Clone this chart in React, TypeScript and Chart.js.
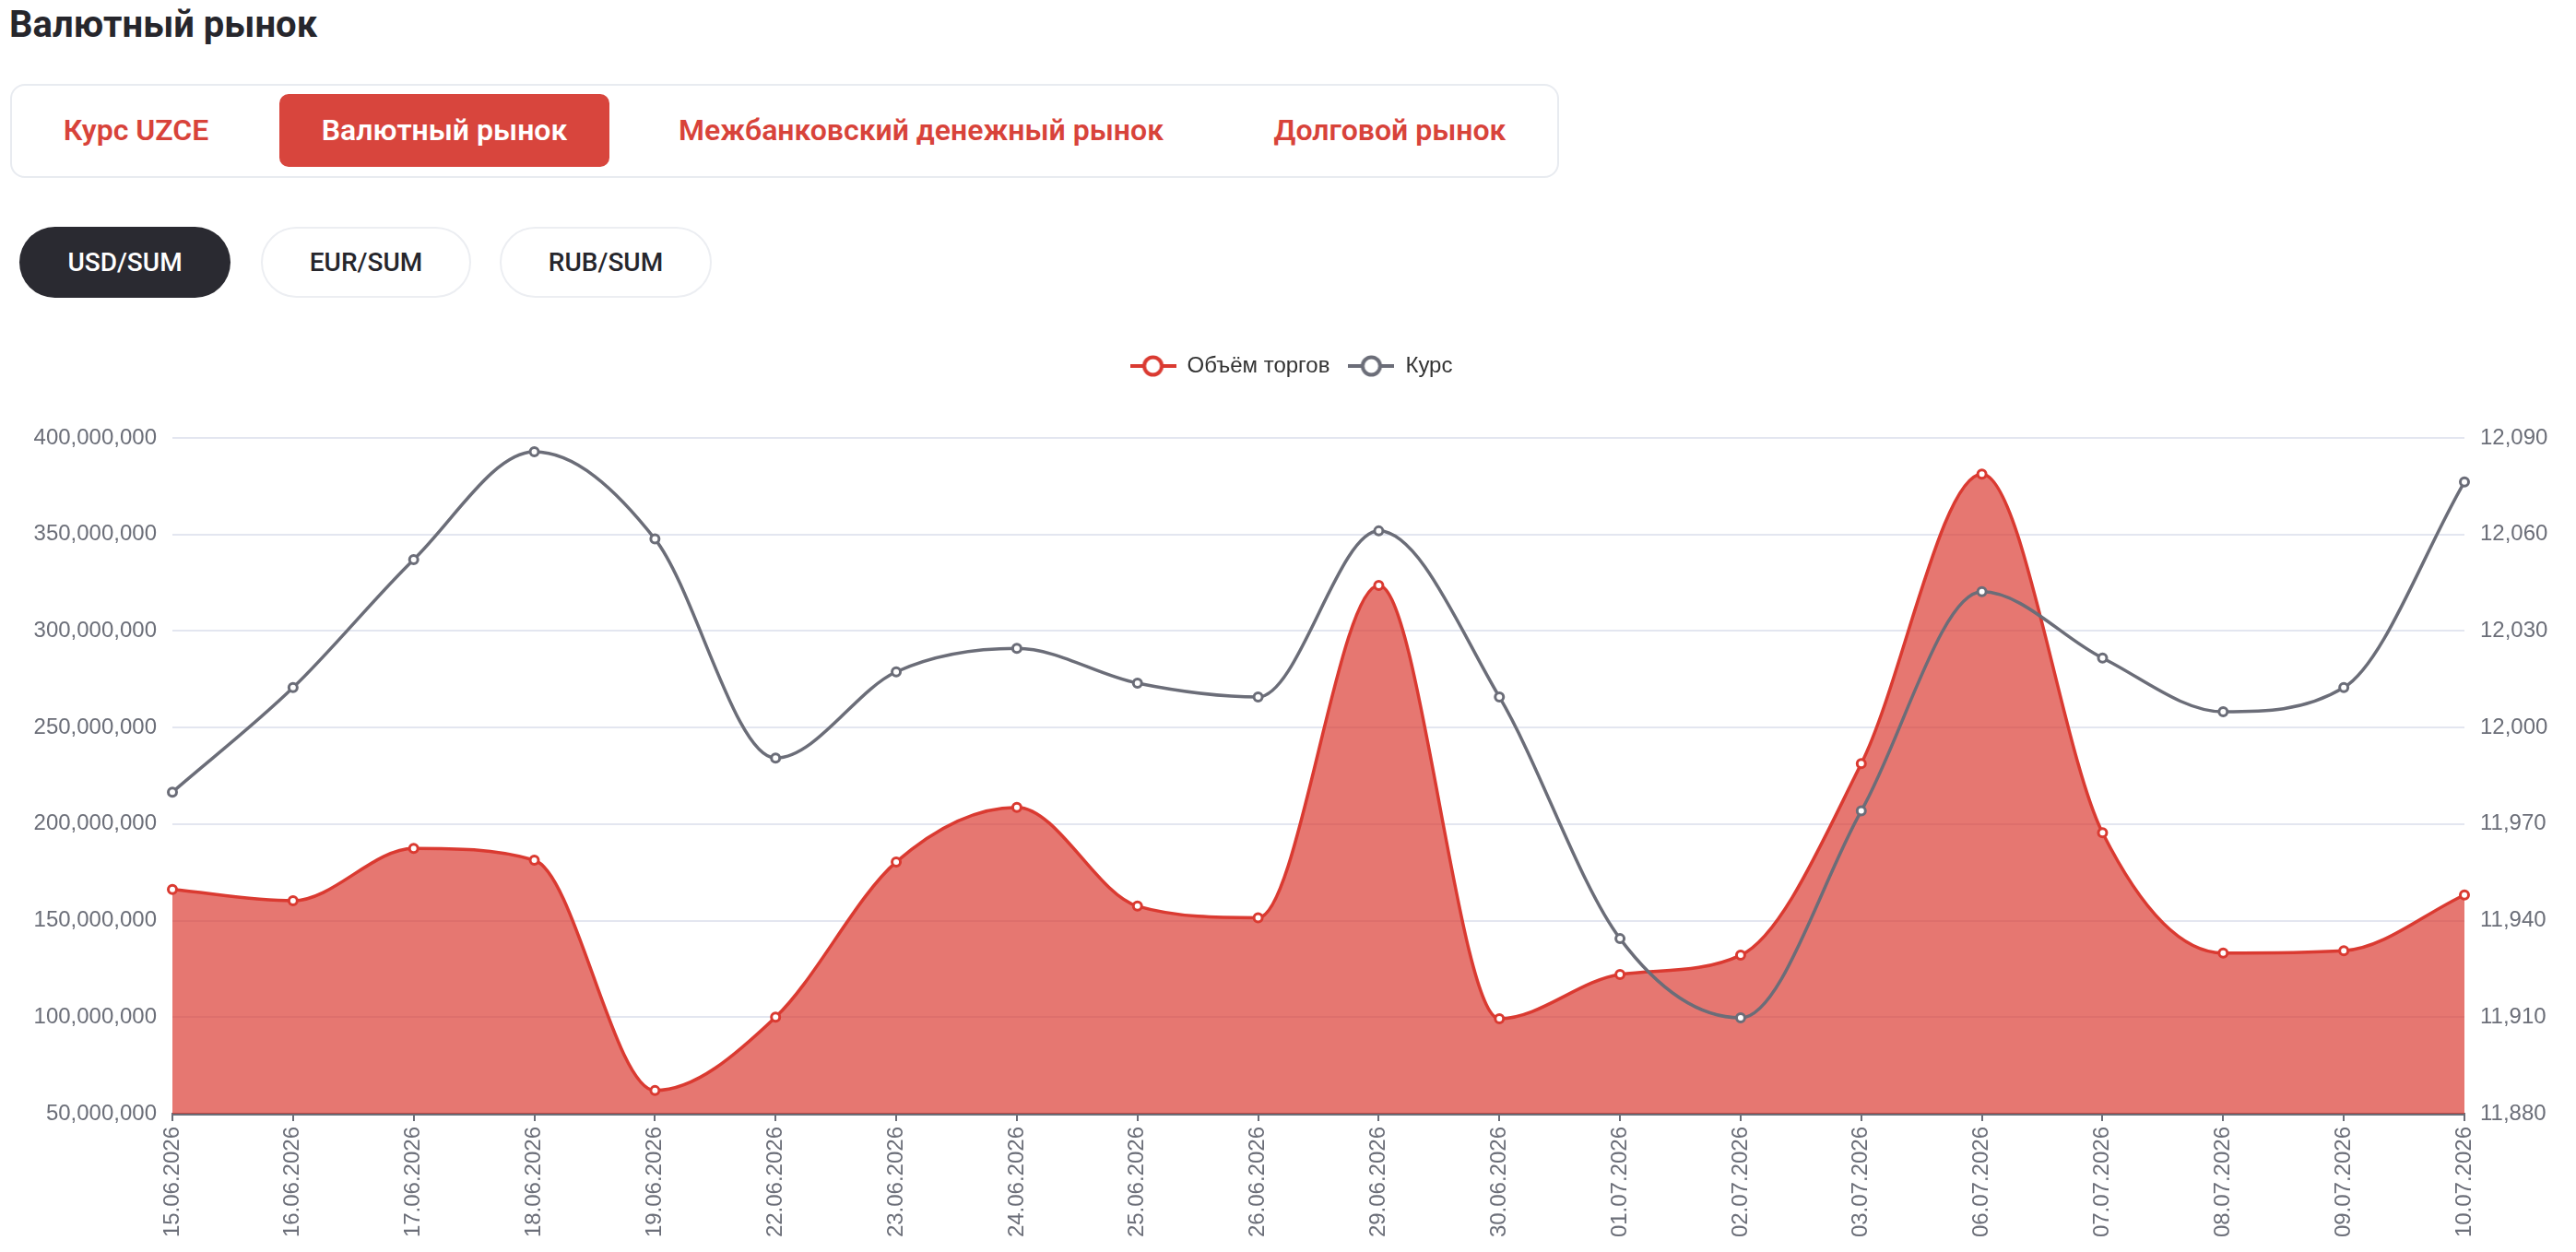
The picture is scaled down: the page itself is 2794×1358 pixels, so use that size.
import { useEffect, useRef } from "react";
import { Chart, registerables } from "chart.js";

Chart.register(...registerables);

// Trading dates (x axis)
const dates = [
  "15.06.2026", "16.06.2026", "17.06.2026", "18.06.2026", "19.06.2026",
  "22.06.2026", "23.06.2026", "24.06.2026", "25.06.2026", "26.06.2026",
  "29.06.2026", "30.06.2026", "01.07.2026", "02.07.2026", "03.07.2026",
  "06.07.2026", "07.07.2026", "08.07.2026", "09.07.2026", "10.07.2026",
];

// Trading volume, USD (left axis)
const volumes = [
  166100000, 160300000, 187400000, 181300000, 62000000,
  100000000, 180400000, 208700000, 157500000, 151500000,
  323600000, 99200000, 122100000, 132100000, 231300000,
  381300000, 195500000, 133200000, 134400000, 163300000,
];

// USD/SUM rate (right axis)
const rates = [
  11979.9, 12012.4, 12052.2, 12085.7, 12058.6,
  11990.5, 12017.3, 12024.6, 12013.8, 12009.5,
  12061.1, 12009.5, 11934.4, 11909.8, 11974.1,
  12042.2, 12021.6, 12004.9, 12012.4, 12076.3,
];

const volumeMin = 50000000;
const volumeMax = 400000000;
const volumeStep = 50000000;
const rateMin = 11880;
const rateMax = 12090;
const rateStep = 30;

const seriesNames = ["Объём торгов", "Курс"];
const marketTabs = ["Курс UZCE", "Валютный рынок", "Межбанковский денежный рынок", "Долговой рынок"];
const pairs = ["USD/SUM", "EUR/SUM", "RUB/SUM"];

const RED = "#da3a31";
const RED_FILL = "rgba(218, 55, 45, 0.68)";
const GRAY = "#6b6d78";
const TICK = "#6b6e78";
const CHART_FONT = "'Liberation Sans', Arial, Helvetica, sans-serif";

// Legend marker: short line with a hollow circle in the middle
function legendIcon(color: string): HTMLCanvasElement {
  const c = document.createElement("canvas");
  c.width = 50;
  c.height = 26;
  const ctx = c.getContext("2d")!;
  ctx.strokeStyle = color;
  ctx.lineWidth = 4;
  ctx.beginPath();
  ctx.moveTo(0, 13);
  ctx.lineTo(50, 13);
  ctx.stroke();
  ctx.beginPath();
  ctx.arc(25, 13, 9.5, 0, Math.PI * 2);
  ctx.fillStyle = "#fff";
  ctx.fill();
  ctx.lineWidth = 4;
  ctx.stroke();
  return c;
}

// Extra room between the legend and the plot
const legendGap = {
  id: "legendGap",
  beforeInit(chart: any) {
    const legend = chart.legend;
    if (!legend) return;
    const fit = legend.fit;
    legend.fit = function () {
      fit.call(legend);
      legend.height += 56;
    };
  },
};

const fmt = (v: number) => Number(v).toLocaleString("en-US");

export default function App() {
  const canvasRef = useRef<HTMLCanvasElement>(null);

  useEffect(() => {
    const icons = [legendIcon(RED), legendIcon(GRAY)];
    const chart = new Chart(canvasRef.current!, {
      type: "line",
      data: {
        labels: dates,
        datasets: [
          {
            label: seriesNames[0],
            data: volumes,
            yAxisID: "yVolume",
            borderColor: RED,
            backgroundColor: RED_FILL,
            borderWidth: 3.5,
            fill: "start",
            cubicInterpolationMode: "monotone",
            pointRadius: 4.5,
            pointBorderWidth: 3,
            pointBackgroundColor: "#fff",
            pointBorderColor: RED,
            order: 1,
          },
          {
            label: seriesNames[1],
            data: rates,
            yAxisID: "yRate",
            borderColor: GRAY,
            backgroundColor: GRAY,
            borderWidth: 3.5,
            fill: false,
            cubicInterpolationMode: "monotone",
            pointRadius: 4.5,
            pointBorderWidth: 3,
            pointBackgroundColor: "#fff",
            pointBorderColor: GRAY,
            order: 0,
          },
        ],
      },
      options: {
        responsive: false,
        animation: false,
        layout: { padding: { left: 7, right: 0, top: 0, bottom: 0 } },
        font: { family: CHART_FONT, size: 24 },
        plugins: {
          tooltip: { enabled: false },
          legend: {
            position: "top",
            labels: {
              usePointStyle: true,
              pointStyleWidth: 50,
              boxHeight: 24,
              padding: 20,
              color: "#333",
              font: { family: CHART_FONT, size: 24 },
              sort: (a: any, b: any) => a.datasetIndex - b.datasetIndex,
              generateLabels: (c: any) =>
                Chart.defaults.plugins.legend.labels
                  .generateLabels(c)
                  .map((l: any) => ({ ...l, pointStyle: icons[l.datasetIndex], lineWidth: 0 })),
            },
          },
        },
        scales: {
          x: {
            offset: false,
            afterFit: (s: any) => {
              s.height = 144;
            },
            grid: {
              drawOnChartArea: false,
              drawTicks: true,
              tickLength: 8,
              color: TICK,
              lineWidth: 2,
            },
            border: { display: true, color: TICK, width: 3 },
            ticks: {
              autoSkip: false,
              minRotation: 90,
              maxRotation: 90,
              padding: 6,
              color: TICK,
              font: { family: CHART_FONT, size: 24 },
            },
          },
          yVolume: {
            position: "left",
            min: volumeMin,
            max: volumeMax,
            afterFit: (s: any) => {
              s.width = 172;
            },
            grid: { color: "#e3e6f0", lineWidth: 2, drawTicks: false },
            border: { display: false },
            ticks: {
              stepSize: volumeStep,
              padding: 17,
              color: TICK,
              font: { family: CHART_FONT, size: 24 },
              callback: (v: any) => fmt(v),
            },
          },
          yRate: {
            position: "right",
            min: rateMin,
            max: rateMax,
            afterFit: (s: any) => {
              s.width = 113;
            },
            grid: { drawOnChartArea: false, drawTicks: false },
            border: { display: false },
            ticks: {
              stepSize: rateStep,
              padding: 17,
              color: TICK,
              font: { family: CHART_FONT, size: 24 },
              callback: (v: any) => fmt(v),
            },
          },
        },
      },
      plugins: [legendGap],
    } as any);
    return () => chart.destroy();
  }, []);

  const tabBoxes = [
    { left: 14.5, width: 250 },
    { left: 295, width: 358 },
    { left: 686, width: 610 },
    { left: 1329, width: 341 },
  ];
  const pillBoxes = [
    { left: 13, width: 229 },
    { left: 275, width: 228 },
    { left: 534, width: 230 },
  ];

  return (
    <div style={{ position: "relative", height: 1337, fontFamily: "Roboto, 'Noto Sans', sans-serif" }}>
      <div
        style={{
          position: "absolute",
          left: 2,
          top: -1,
          fontSize: 40,
          lineHeight: "40px",
          fontWeight: 700,
          color: "#26262c",
          whiteSpace: "nowrap",
        }}
      >
        Валютный рынок
      </div>

      <div
        style={{
          position: "absolute",
          left: 3,
          top: 83,
          width: 1680,
          height: 102,
          boxSizing: "border-box",
          border: "2px solid #e8ebf0",
          borderRadius: 16,
          background: "#fff",
        }}
      />
      {marketTabs.map((t, i) => (
        <div
          key={t}
          style={{
            position: "absolute",
            left: tabBoxes[i].left,
            top: 94,
            width: tabBoxes[i].width,
            height: 79,
            lineHeight: "79px",
            textAlign: "center",
            fontSize: 32,
            fontWeight: 600,
            whiteSpace: "nowrap",
            borderRadius: 10,
            background: i === 1 ? "#d8453d" : "transparent",
            color: i === 1 ? "#fff" : "#d8433a",
          }}
        >
          {t}
        </div>
      ))}

      {pairs.map((p, i) => (
        <div
          key={p}
          style={{
            position: "absolute",
            left: pillBoxes[i].left,
            top: 238,
            width: pillBoxes[i].width,
            height: 77,
            boxSizing: "border-box",
            lineHeight: i === 0 ? "77px" : "73px",
            textAlign: "center",
            fontSize: 28,
            fontWeight: 500,
            borderRadius: 40,
            border: i === 0 ? "none" : "2px solid #eceef2",
            background: i === 0 ? "#2a2a31" : "#fff",
            color: i === 0 ? "#fff" : "#26262c",
          }}
        >
          {p}
        </div>
      ))}

      <canvas
        ref={canvasRef}
        width={2778}
        height={987}
        style={{ position: "absolute", left: 0, top: 357, width: 2778, height: 987 }}
      />
    </div>
  );
}
